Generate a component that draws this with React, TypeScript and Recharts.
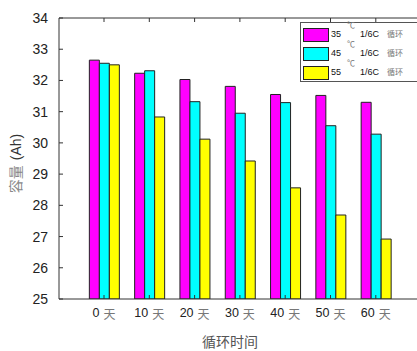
import React from 'react';
import { Bar, BarChart, Legend, XAxis, YAxis } from 'recharts';

const days = ['0', '10', '20', '30', '40', '50', '60'];
const cap35 = [32.65, 32.23, 32.03, 31.81, 31.55, 31.52, 31.3];
const cap45 = [32.55, 32.31, 31.32, 30.95, 31.29, 30.55, 30.28];
const cap55 = [32.5, 30.83, 30.12, 29.42, 28.56, 27.69, 26.92];
const yTicks = [25, 26, 27, 28, 29, 30, 31, 32, 33, 34];

const seriesTemps = ['35', '45', '55'];
const seriesKeys = ['c35', 'c45', 'c55'];
const seriesColors = ['#ff00ff', '#00ffff', '#ffff00'];

const data = days.map((d, i) => ({ day: d, c35: cap35[i], c45: cap45[i], c55: cap55[i] }));

const sans = "'Liberation Sans', Arial, sans-serif";
const cjk = "'Noto Sans CJK SC', sans-serif";
const axisColor = '#333';

const DayTick = (props: any) => {
  const { x, y, payload } = props;
  return (
    <text x={x} y={y} dy="0.71em" textAnchor="middle" fontSize={12.5} fontFamily={sans}>
      <tspan fill="#222">{payload.value}</tspan>
      <tspan fill="#777" dx={4} dy={2} fontFamily={cjk} fontSize={12}>天</tspan>
    </text>
  );
};

const YLabel = (props: any) => {
  const vb = props.viewBox;
  const cx = vb.x + 16;
  const cy = vb.y + vb.height / 2 + 5;
  return (
    <text x={cx} y={cy} transform={`rotate(-90 ${cx} ${cy})`} textAnchor="middle" fontSize={14} dy="0.35em">
      <tspan fill="#888" fontFamily={cjk}>容量</tspan>
      <tspan fill="#333" fontFamily={sans} dx={5}>(Ah)</tspan>
    </text>
  );
};

const LegendBox = () => (
  <div
    style={{
      width: 130,
      height: 60,
      border: '1px solid #555',
      background: '#fff',
      boxSizing: 'border-box',
      paddingTop: 4,
    }}
  >
    {seriesTemps.map((t, i) => (
      <div key={t} style={{ position: 'relative', height: 19 }}>
        <div
          style={{
            position: 'absolute',
            left: 2,
            top: 1,
            width: 26,
            height: 14,
            boxSizing: 'border-box',
            background: seriesColors[i],
            border: '1px solid #222',
          }}
        />
        <span style={{ position: 'absolute', left: 30, top: 2, fontSize: 9, fontFamily: sans, color: '#111' }}>{t}</span>
        <span style={{ position: 'absolute', left: 46, top: -8, fontSize: 8, fontFamily: cjk, color: '#777' }}>℃</span>
        <span style={{ position: 'absolute', left: 59, top: 2, fontSize: 9, fontFamily: sans, color: '#111' }}>1/6C</span>
        <span style={{ position: 'absolute', left: 86, top: 1, fontSize: 8, fontFamily: cjk, color: '#777' }}>循环</span>
      </div>
    ))}
  </div>
);

const App: React.FC = () => {
  return (
    <div style={{ position: 'absolute', left: 0, top: 0, width: 417, height: 351, overflow: 'hidden', background: '#fff' }}>
      <BarChart
        width={417}
        height={351}
        data={data}
        margin={{ top: 17, right: 0, bottom: 0, left: 0 }}
        barGap={0}
        barSize={10}
      >
        <XAxis
          xAxisId="bottom"
          dataKey="day"
          height={52}
          padding={{ left: 22.35, right: 18.55 }}
          stroke={axisColor}
          tickSize={-4}
          tickMargin={13}
          tick={<DayTick />}
          interval={0}
          label={{
            value: '循环时间',
            position: 'insideBottom',
            offset: 4,
            dx: -8,
            fill: '#555',
            fontSize: 14,
            fontFamily: cjk,
          }}
        />
        <XAxis
          xAxisId="top"
          dataKey="day"
          orientation="top"
          height={1}
          padding={{ left: 22.35, right: 18.55 }}
          stroke={axisColor}
          tickSize={-4}
          tick={() => <g />}
          interval={0}
        />
        <YAxis
          width={59}
          domain={[25, 34]}
          ticks={yTicks}
          allowDataOverflow
          stroke={axisColor}
          tickSize={-4}
          tickMargin={15}
          tick={{ fill: '#222', fontSize: 14, fontFamily: sans }}
          label={<YLabel />}
        />
        <Legend
          layout="vertical"
          align="center"
          verticalAlign="middle"
          wrapperStyle={{ position: 'absolute', left: 300, top: 22, width: 130 }}
          content={() => <LegendBox />}
        />
        {seriesKeys.map((k, i) => (
          <Bar
            key={k}
            xAxisId="bottom"
            dataKey={k}
            name={`${seriesTemps[i]} ℃ 1/6C 循环`}
            fill={seriesColors[i]}
            stroke="#222"
            strokeWidth={1}
            isAnimationActive={false}
          />
        ))}
      </BarChart>
    </div>
  );
};

export default App;
